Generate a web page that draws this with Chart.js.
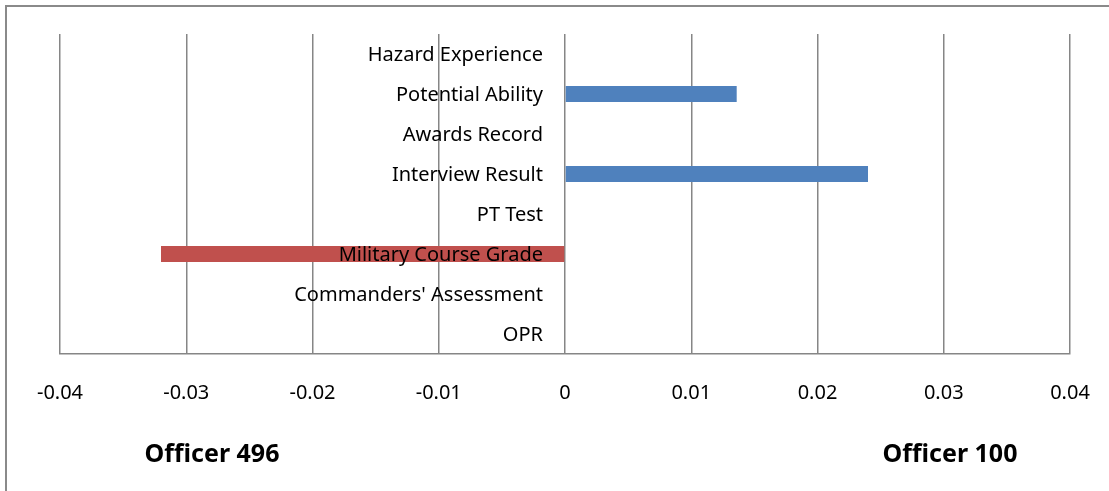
<!DOCTYPE html>
<html>
<head>
<meta charset="utf-8">
<script src="https://cdn.jsdelivr.net/npm/chart.js@4.4.1/dist/chart.umd.min.js"></script>
<style>
  html, body { margin: 0; padding: 0; background: #fff; }
  #wrap { position: relative; width: 1109px; height: 491px; overflow: hidden; }
  #frame { position: absolute; left: 5px; top: 5px; width: 1200px; height: 600px;
           border-top: 2px solid #8a8a8a; border-left: 2px solid #8a8a8a; }
  canvas { position: absolute; left: 0; top: 0; }
  .side { position: absolute; top: 435px; width: 240px; text-align: center;
          font: bold 25px "Noto Sans", sans-serif; color: #000; }
</style>
</head>
<body>
<div id="wrap">
  <div id="frame"></div>
  <canvas id="myChart" width="1109" height="491"></canvas>
  <div class="side" style="left:92px">Officer 496</div>
  <div class="side" style="left:830px">Officer 100</div>
</div>
<script>
// categories, top to bottom as shown
const categories = ['Hazard Experience', 'Potential Ability', 'Awards Record', 'Interview Result',
    'PT Test', 'Military Course Grade', "Commanders' Assessment", 'OPR'];
const officer100 = [null, 0.0136, null, 0.024, null, null, null, null];
const officer496 = [null, null, null, null, null, -0.032, null, null];
const xTicks = [-0.04, -0.03, -0.02, -0.01, 0, 0.01, 0.02, 0.03, 0.04];

const gridGrey = '#868686';

// category names sit left of the zero line, on top of the bars
const categoryLabels = {
    id: 'categoryLabels',
    afterDatasetsDraw(chart) {
        const { ctx, scales: { x, y } } = chart;
        const right = x.getPixelForValue(0) - 22;
        ctx.save();
        ctx.font = '20px "Noto Sans", sans-serif';
        ctx.fillStyle = '#000';
        ctx.textAlign = 'right';
        ctx.textBaseline = 'middle';
        y.ticks.forEach((t, i) => {
            ctx.fillText(y.getLabelForValue(t.value), right, y.getPixelForTick(i) + 1);
        });
        ctx.restore();
    }
};

const ctx = document.getElementById('myChart');
new Chart(ctx, {
    type: 'bar',
    data: {
        labels: categories,
        datasets: [{
            label: 'Officer 100',
            data: officer100,
            backgroundColor: '#4f81bd',
            barPercentage: 0.4,
            categoryPercentage: 1
        }, {
            label: 'Officer 496',
            data: officer496,
            backgroundColor: '#c0504d',
            barPercentage: 0.4,
            categoryPercentage: 1
        }]
    },
    options: {
        indexAxis: 'y',
        responsive: false,
        animation: false,
        layout: { padding: { left: 60, right: 39, top: 34, bottom: 0 } },
        plugins: { legend: { display: false }, tooltip: { enabled: false } },
        scales: {
            x: {
                min: -0.04,
                max: 0.04,
                stacked: true,
                afterBuildTicks: s => { s.ticks = xTicks.map(v => ({ value: v })); },
                afterFit: s => {
                    s.height = 137;
                    s.paddingLeft = 0;
                    s.paddingRight = 0;
                },
                grid: { color: gridGrey, lineWidth: 1.5, drawTicks: false },
                border: { color: gridGrey, width: 1.5 },
                ticks: {
                    padding: 27,
                    color: '#000',
                    font: { family: 'Noto Sans', size: 20 },
                    callback: v => String(+v.toFixed(2))
                }
            },
            y: {
                display: false,
                stacked: true
            }
        }
    },
    plugins: [categoryLabels]
});
</script>
</body>
</html>
